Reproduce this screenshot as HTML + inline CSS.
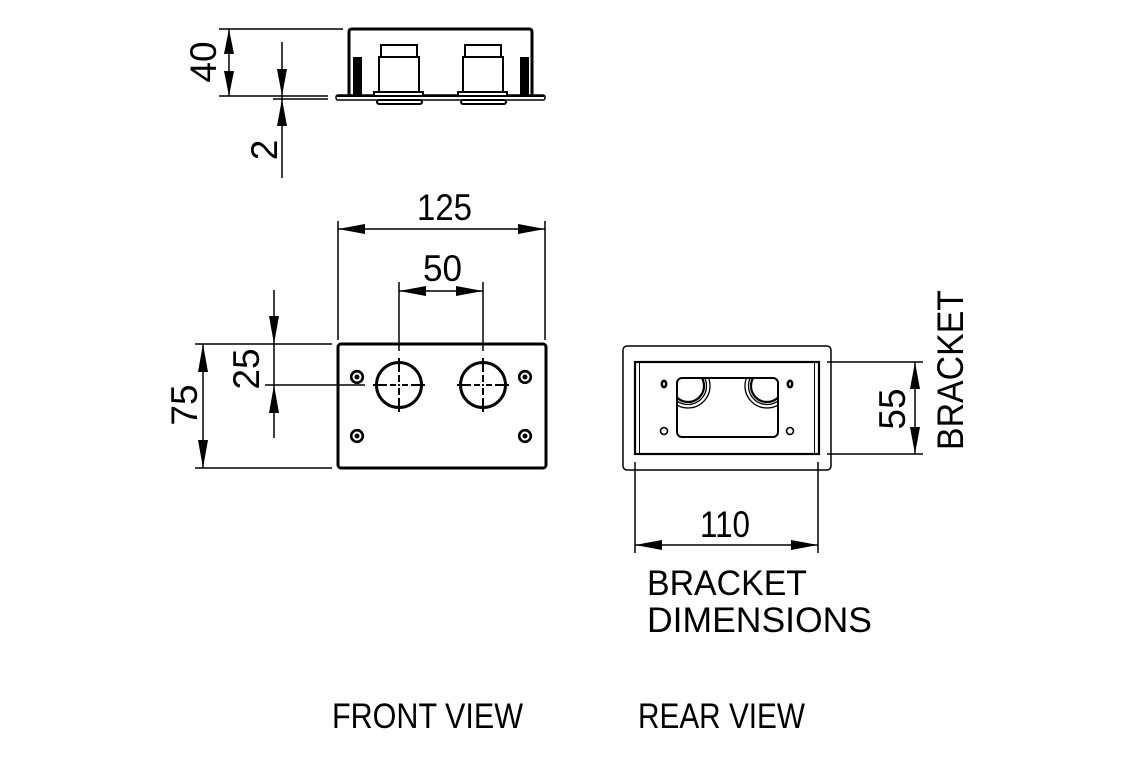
<!DOCTYPE html>
<html>
<head>
<meta charset="utf-8">
<style>
  html,body{margin:0;padding:0;background:#fff;}
  svg{display:block;}
  text{font-family:"Liberation Sans",sans-serif;fill:#000;}
</style>
</head>
<body>
<svg width="1140" height="760" viewBox="0 0 1140 760" xmlns="http://www.w3.org/2000/svg">
  <defs>
    <clipPath id="plateClip">
      <rect x="678" y="379" width="99" height="57" rx="5"/>
    </clipPath>
  </defs>

  <g stroke="#000" fill="none" stroke-linecap="butt">
    <!-- ============ TOP VIEW ============ -->
    <line x1="219" y1="29" x2="343" y2="29" stroke-width="1.5"/>
    <line x1="219" y1="96" x2="328" y2="96" stroke-width="1.5"/>
    <line x1="273" y1="99" x2="328" y2="99" stroke-width="1.5"/>
    <line x1="229" y1="29" x2="229" y2="96" stroke-width="1.5"/>
    <line x1="282" y1="42" x2="282" y2="178" stroke-width="1.5"/>

    <path d="M349,95 L349,32 Q349,29 352,29 L529,29 Q532,29 532,32 L532,95" stroke-width="3"/>
    <rect x="336" y="95" width="209" height="5" rx="2" stroke-width="1.5" fill="#fff"/>
    <line x1="337" y1="96" x2="544" y2="96" stroke-width="2"/>
    <rect x="381" y="45" width="36" height="12" stroke-width="2"/>
    <rect x="379" y="57" width="40" height="35" stroke-width="2"/>
    <rect x="374" y="92" width="49" height="4" stroke-width="2" fill="#fff"/>
    <rect x="377" y="100" width="45" height="4" rx="2" stroke-width="2"/>
    <rect x="465" y="45" width="36" height="12" stroke-width="2"/>
    <rect x="463" y="57" width="40" height="35" stroke-width="2"/>
    <rect x="458" y="92" width="49" height="4" stroke-width="2" fill="#fff"/>
    <rect x="461" y="100" width="45" height="4" rx="2" stroke-width="2"/>

    <!-- ============ FRONT VIEW ============ -->
    <line x1="338" y1="221" x2="338" y2="340" stroke-width="1.5"/>
    <line x1="545" y1="221" x2="545" y2="340" stroke-width="1.5"/>
    <line x1="338" y1="229" x2="545" y2="229" stroke-width="1.5"/>
    <line x1="399" y1="282" x2="399" y2="351" stroke-width="1.5"/>
    <line x1="483" y1="282" x2="483" y2="351" stroke-width="1.5"/>
    <line x1="399" y1="291" x2="483" y2="291" stroke-width="1.5"/>
    <line x1="195" y1="344" x2="332" y2="344" stroke-width="1.5"/>
    <line x1="195" y1="468" x2="332" y2="468" stroke-width="1.5"/>
    <line x1="265" y1="385" x2="365" y2="385" stroke-width="1.5"/>
    <line x1="274" y1="290" x2="274" y2="438" stroke-width="1.5"/>
    <line x1="203" y1="344" x2="203" y2="468" stroke-width="1.5"/>

    <rect x="338" y="344" width="208" height="124" rx="3" stroke-width="3"/>
    <circle cx="399" cy="385" r="22.5" stroke-width="3"/>
    <circle cx="483" cy="385" r="22.5" stroke-width="3"/>
    <g stroke-width="2">
      <line x1="373" y1="385" x2="387" y2="385"/><line x1="390" y1="385" x2="396" y2="385"/>
      <line x1="398" y1="385" x2="400" y2="385"/><line x1="402" y1="385" x2="408" y2="385"/>
      <line x1="411" y1="385" x2="425" y2="385"/>
      <line x1="399" y1="358" x2="399" y2="372"/><line x1="399" y1="375" x2="399" y2="382"/>
      <line x1="399" y1="384" x2="399" y2="386"/><line x1="399" y1="388" x2="399" y2="395"/>
      <line x1="399" y1="398" x2="399" y2="412"/>
      <line x1="457" y1="385" x2="471" y2="385"/><line x1="474" y1="385" x2="480" y2="385"/>
      <line x1="482" y1="385" x2="484" y2="385"/><line x1="486" y1="385" x2="492" y2="385"/>
      <line x1="495" y1="385" x2="509" y2="385"/>
      <line x1="483" y1="358" x2="483" y2="372"/><line x1="483" y1="375" x2="483" y2="382"/>
      <line x1="483" y1="384" x2="483" y2="386"/><line x1="483" y1="388" x2="483" y2="395"/>
      <line x1="483" y1="398" x2="483" y2="412"/>
    </g>
    <g stroke-width="2.6">
      <circle cx="357" cy="377" r="5.8" fill="#fff"/>
      <circle cx="525" cy="377" r="5.8"/>
      <circle cx="357" cy="436" r="5.8"/>
      <circle cx="525" cy="436" r="5.8"/>
    </g>

    <!-- ============ REAR VIEW ============ -->
    <rect x="623" y="346" width="208" height="124" rx="4" stroke-width="1.5"/>
    <rect x="635" y="362" width="184" height="92" stroke-width="2.2"/>
    <line x1="639.5" y1="362" x2="639.5" y2="454" stroke-width="1"/>
    <line x1="814.5" y1="362" x2="814.5" y2="454" stroke-width="1"/>
    <g clip-path="url(#plateClip)">
      <circle cx="688" cy="386" r="16" stroke-width="2.2"/>
      <circle cx="688" cy="386" r="18.5" stroke-width="1.3"/>
      <circle cx="688" cy="386" r="22" stroke-width="1.3"/>
      <circle cx="767" cy="386" r="16" stroke-width="2.2"/>
      <circle cx="767" cy="386" r="18.5" stroke-width="1.3"/>
      <circle cx="767" cy="386" r="22" stroke-width="1.3"/>
    </g>
    <rect x="677" y="378" width="101" height="59" rx="5" stroke-width="2"/>
    <ellipse cx="664" cy="384" rx="2.2" ry="3.2" stroke-width="2.5"/>
    <ellipse cx="790" cy="384" rx="2.2" ry="3.2" stroke-width="2.5"/>
    <circle cx="664" cy="431" r="3.5" stroke-width="1.6"/>
    <circle cx="790" cy="431" r="3.5" stroke-width="1.6"/>
    <line x1="827" y1="362" x2="923" y2="362" stroke-width="1.5"/>
    <line x1="827" y1="454" x2="923" y2="454" stroke-width="1.5"/>
    <line x1="915" y1="362" x2="915" y2="454" stroke-width="1.5"/>
    <line x1="635" y1="462" x2="635" y2="553" stroke-width="1.5"/>
    <line x1="818" y1="462" x2="818" y2="553" stroke-width="1.5"/>
    <line x1="635" y1="545" x2="818" y2="545" stroke-width="1.5"/>
  </g>

  <g fill="#000" stroke="none">
    <rect x="353" y="57" width="9" height="38"/>
    <rect x="520" y="57" width="9" height="38"/>
    <circle cx="357" cy="377" r="2.5"/>
    <circle cx="525" cy="377" r="2.5"/>
    <circle cx="357" cy="436" r="2.5"/>
    <circle cx="525" cy="436" r="2.5"/>
    <polygon points="229,29 224,54 234,54"/>
    <polygon points="229,96 224,71 234,71"/>
    <polygon points="282,96 277,69 287,69"/>
    <polygon points="282,99 277,126 287,126"/>
    <polygon points="338,229 365,224 365,234"/>
    <polygon points="545,229 518,224 518,234"/>
    <polygon points="399,291 426,286 426,296"/>
    <polygon points="483,291 456,286 456,296"/>
    <polygon points="274,344 269,316 279,316"/>
    <polygon points="274,385 269,413 279,413"/>
    <polygon points="203,344 198,372 208,372"/>
    <polygon points="203,468 198,440 208,440"/>
    <polygon points="915,362 910,389 920,389"/>
    <polygon points="915,454 910,427 920,427"/>
    <polygon points="635,545 662,540 662,550"/>
    <polygon points="818,545 791,540 791,550"/>
  </g>

  <g font-size="37">
    <text transform="translate(216,62) rotate(-90)" text-anchor="middle">40</text>
    <text transform="translate(277,150) rotate(-90)" text-anchor="middle">2</text>
    <text x="417" y="220" textLength="55" lengthAdjust="spacingAndGlyphs">125</text>
    <text x="423" y="281" textLength="39" lengthAdjust="spacingAndGlyphs">50</text>
    <text transform="translate(197,405) rotate(-90)" text-anchor="middle">75</text>
    <text transform="translate(259,369) rotate(-90)" text-anchor="middle">25</text>
    <text transform="translate(905,409) rotate(-90)" text-anchor="middle">55</text>
    <text x="700" y="537" textLength="50" lengthAdjust="spacingAndGlyphs">110</text>
    <text transform="translate(963,450) rotate(-90)" textLength="160" lengthAdjust="spacingAndGlyphs">BRACKET</text>
  </g>
  <g font-size="35">
    <text x="647" y="595" textLength="160" lengthAdjust="spacingAndGlyphs">BRACKET</text>
    <text x="647" y="632" textLength="225" lengthAdjust="spacingAndGlyphs">DIMENSIONS</text>
    <text x="332" y="728" textLength="191" lengthAdjust="spacingAndGlyphs">FRONT VIEW</text>
    <text x="638" y="728" textLength="167" lengthAdjust="spacingAndGlyphs">REAR VIEW</text>
  </g>
</svg>
</body>
</html>
